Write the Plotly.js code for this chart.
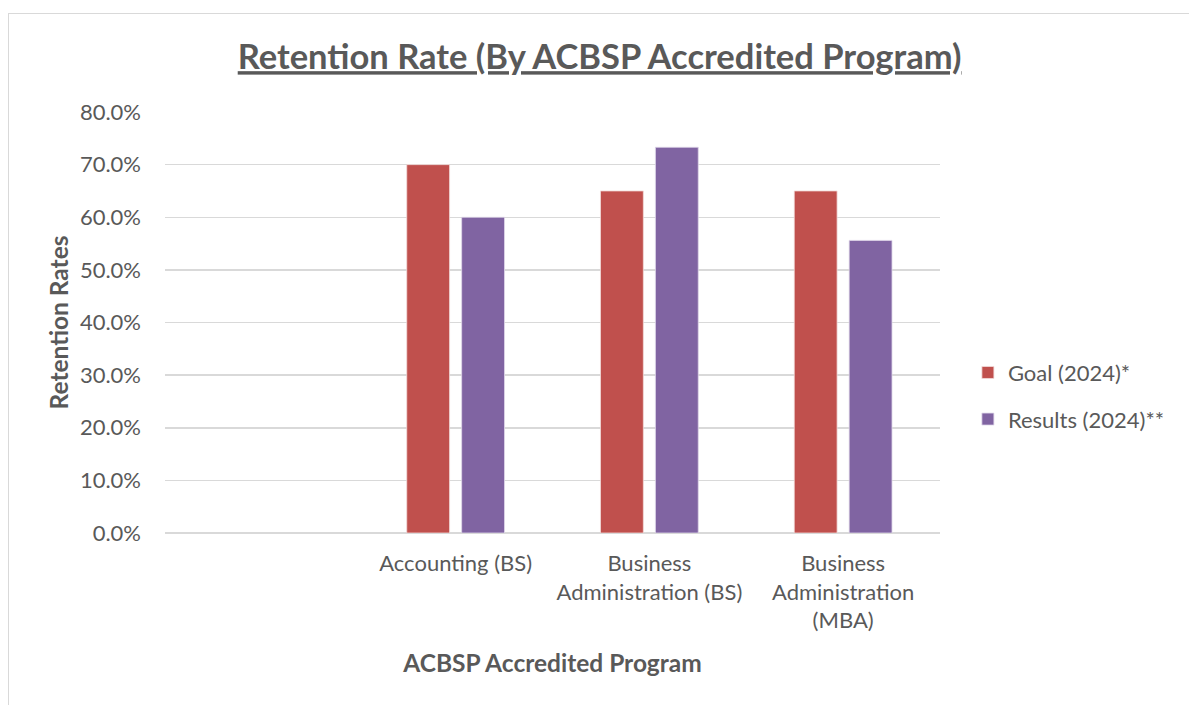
<!DOCTYPE html>
<html>
<head>
<meta charset="utf-8">
<script src="https://cdn.plot.ly/plotly-3.0.1.min.js"></script>
<style>
  html, body { margin: 0; padding: 0; background: #ffffff; overflow: hidden; }
  #frame { position: absolute; left: 8px; top: 13px; width: 1200px; height: 720px; border: 1.5px solid #d9d9d9; box-sizing: border-box; }
  #chart { position: absolute; left: 0; top: 0; width: 1189px; height: 705px; }
</style>
</head>
<body>
<div id="frame"></div>
<div id="chart"></div>
<script>
const categories = [" ", "Accounting (BS)", "Business<br>Administration (BS)", "Business<br>Administration<br>(MBA)"];
const goal2024 = [null, 0.70, 0.65, 0.65];
const results2024 = [null, 0.60, 0.733, 0.556];
const yTickVals = [0, 0.1, 0.2, 0.3, 0.4, 0.5, 0.6, 0.7, 0.8];
const seriesNames = ["Goal (2024)*", "Results (2024)**"];

const FONT = "Lato, 'Open Sans', sans-serif";
const TXT = "#595959";

const traces = [
  { type: "bar", name: seriesNames[0], x: categories, y: goal2024,
    marker: { color: "#C0504D", line: { color: "#f2dcdb", width: 0.8 } },
    legendgroup: "g1", hoverinfo: "skip" },
  { type: "bar", name: seriesNames[1], x: categories, y: results2024,
    marker: { color: "#8064A2", line: { color: "#e0d8ea", width: 0.8 } },
    legendgroup: "g2", hoverinfo: "skip" }
];

const layout = {
  width: 1189, height: 705,
  paper_bgcolor: "rgba(0,0,0,0)", plot_bgcolor: "rgba(0,0,0,0)",
  margin: { l: 165, r: 249, t: 112, b: 172 },
  font: { family: FONT, color: TXT, size: 22 },
  title: { text: "<b><u>Retention Rate (By ACBSP Accredited Program)</u></b>",
           font: { family: FONT, size: 34.5, color: TXT },
           x: 0.5043, xanchor: "center", y: 0.919, yanchor: "middle" },
  barmode: "group", bargap: 0.433, bargroupgap: 0.22,
  showlegend: true,
  legend: { x: 1.036, xanchor: "left", y: 0.325, yanchor: "middle",
            font: { family: FONT, size: 22, color: TXT }, tracegroupgap: 15,
            itemwidth: 30 },
  xaxis: {
    type: "category", categoryorder: "array", categoryarray: categories,
    showgrid: false, zeroline: false, showline: false, ticks: "",
    tickfont: { family: FONT, size: 22, color: TXT },
    ticklabelstandoff: 15,
    title: { text: "<b>ACBSP Accredited Program</b>", font: { family: FONT, size: 24.5, color: TXT }, standoff: 22 }
  },
  yaxis: {
    range: [0, 0.8], tickvals: yTickVals, tickformat: ".1%",
    showgrid: true, gridcolor: "#d9d9d9", gridwidth: 1.5,
    zeroline: true, zerolinecolor: "#d9d9d9", zerolinewidth: 1.5,
    showline: false, ticks: "",
    tickfont: { family: FONT, size: 22, color: TXT },
    ticklabelstandoff: 23,
    title: { text: "<b>Retention Rates</b>", font: { family: FONT, size: 24.5, color: TXT }, standoff: 4 }
  }
};

Plotly.newPlot("chart", traces, layout, { displayModeBar: false, staticPlot: true });
</script>
</body>
</html>
